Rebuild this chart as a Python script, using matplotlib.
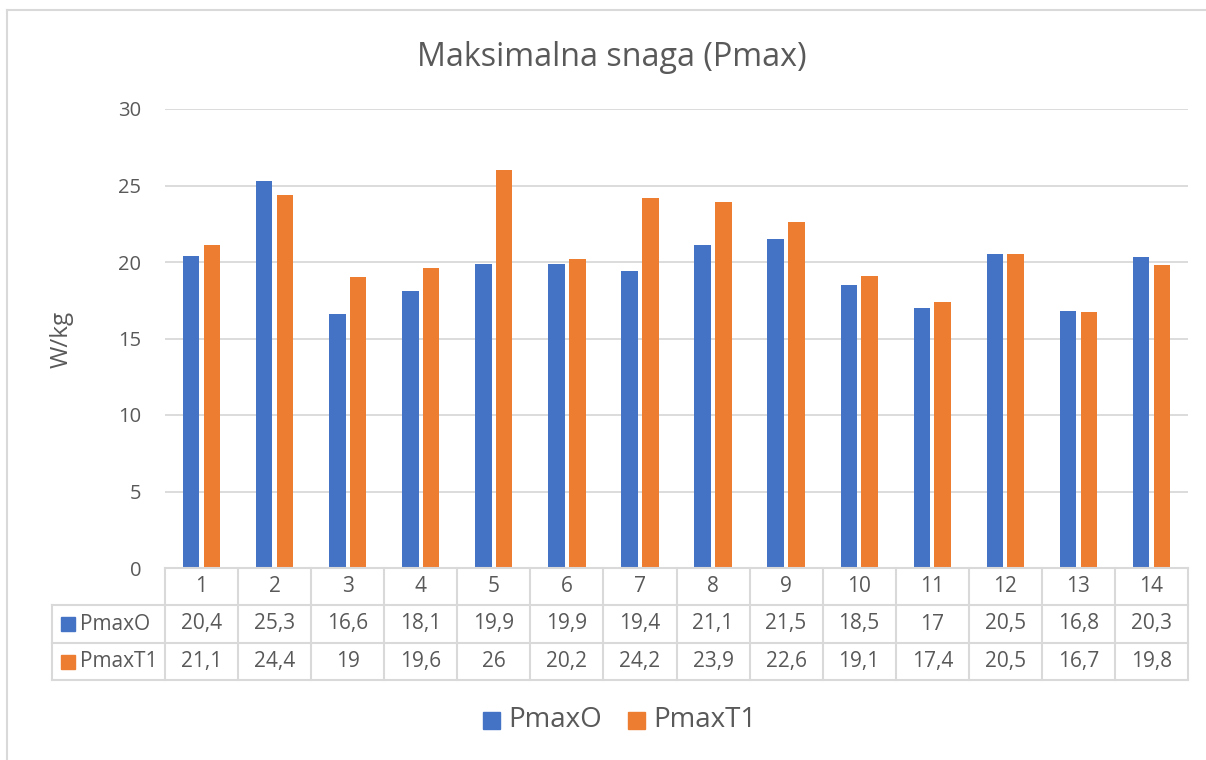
import matplotlib
matplotlib.use("Agg")
import matplotlib.pyplot as plt
from matplotlib.patches import Rectangle
from matplotlib.lines import Line2D
import numpy as np

categories = [str(i) for i in range(1, 15)]
series_names = ["PmaxO", "PmaxT1"]
pmax_o = [20.4, 25.3, 16.6, 18.1, 19.9, 19.9, 19.4, 21.1, 21.5, 18.5, 17.0, 20.5, 16.8, 20.3]
pmax_t1 = [21.1, 24.4, 19.0, 19.6, 26.0, 20.2, 24.2, 23.9, 22.6, 19.1, 17.4, 20.5, 16.7, 19.8]
table_o = ["20,4", "25,3", "16,6", "18,1", "19,9", "19,9", "19,4", "21,1", "21,5", "18,5", "17", "20,5", "16,8", "20,3"]
table_t1 = ["21,1", "24,4", "19", "19,6", "26", "20,2", "24,2", "23,9", "22,6", "19,1", "17,4", "20,5", "16,7", "19,8"]
title = "Maksimalna snaga (Pmax)"
ylabel = "W/kg"
yticks = [0, 5, 10, 15, 20, 25, 30]

colors = ["#4472C4", "#ED7D31"]
txt = "#595959"
grid = "#D9D9D9"
FONT = ["Open Sans", "DejaVu Sans"]
plt.rcParams["font.family"] = FONT

W, H = 1206, 760
fig = plt.figure(figsize=(W / 100, H / 100), dpi=100)

def fx(px):
    return px / W

def fy(py):
    return 1 - py / H

# chart border
fig.add_artist(Line2D([fx(7), fx(7)], [fy(10), 0], color=grid, lw=1.5))
fig.add_artist(Line2D([fx(7), 1], [fy(10), fy(10)], color=grid, lw=1.5))

L, R, T, B = 165, 1188, 109, 568
ax = fig.add_axes([fx(L), fy(B), fx(R) - fx(L), fy(T) - fy(B)])
n = len(categories)
x = np.arange(1, n + 1)
bw = 0.226
off = 0.142
ax.bar(x - off, pmax_o, width=bw, color=colors[0], zorder=3)
ax.bar(x + off, pmax_t1, width=bw, color=colors[1], zorder=3)
ax.set_xlim(0.5, n + 0.5)
ax.set_ylim(0, 30)
ax.set_yticks(yticks)
ax.set_yticklabels([str(t) for t in yticks], fontsize=14.5, color=txt)
ax.tick_params(axis="y", length=0, pad=17)
ax.set_xticks([])
for s in ax.spines.values():
    s.set_visible(False)
ax.yaxis.grid(True, color=grid, lw=1.3, zorder=0)
ax.set_axisbelow(True)

fig.text(fx(62), fy(339), ylabel, rotation=90, ha="center", va="center", fontsize=17.5, color=txt)
fig.text(fx(612), fy(57), title, ha="center", va="center", fontsize=23.2, color=txt)

# data table
rows_y = [568, 605, 643, 680]
colw = (R - L) / n
tl = 52
lw_t = 1.5
fig.add_artist(Line2D([fx(L), fx(R)], [fy(rows_y[0]), fy(rows_y[0])], color=grid, lw=lw_t))
for yy in rows_y[1:]:
    fig.add_artist(Line2D([fx(tl), fx(R)], [fy(yy), fy(yy)], color=grid, lw=lw_t))
fig.add_artist(Line2D([fx(tl), fx(tl)], [fy(rows_y[1]), fy(rows_y[3])], color=grid, lw=lw_t))
for i in range(n + 1):
    xx = L + i * colw
    fig.add_artist(Line2D([fx(xx), fx(xx)], [fy(rows_y[0]), fy(rows_y[3])], color=grid, lw=lw_t))

for i, c in enumerate(categories):
    cx = L + (i + 0.5) * colw
    fig.text(fx(cx), fy((rows_y[0] + rows_y[1]) / 2), c, ha="center", va="center", fontsize=15, color=txt)
    fig.text(fx(cx), fy((rows_y[1] + rows_y[2]) / 2), table_o[i], ha="center", va="center", fontsize=15, color=txt)
    fig.text(fx(cx), fy((rows_y[2] + rows_y[3]) / 2), table_t1[i], ha="center", va="center", fontsize=15, color=txt)

for r, (name, col) in enumerate(zip(series_names, colors)):
    cy = (rows_y[r + 1] + rows_y[r + 2]) / 2
    fig.add_artist(Rectangle((fx(61), fy(cy + 7)), fx(14), 14 / H, color=col))
    fig.text(fx(80), fy(cy), name, ha="left", va="center", fontsize=15, color=txt)

# legend
leg_y = 720
items = [(483, 508), (628, 653)]
for (sq, tx), name, col in zip(items, series_names, colors):
    fig.add_artist(Rectangle((fx(sq), fy(leg_y + 9)), fx(17), 17 / H, color=col))
    fig.text(fx(tx), fy(leg_y), name, ha="left", va="center", fontsize=20, color=txt)

fig.savefig("out.png", dpi=100, facecolor="white")
